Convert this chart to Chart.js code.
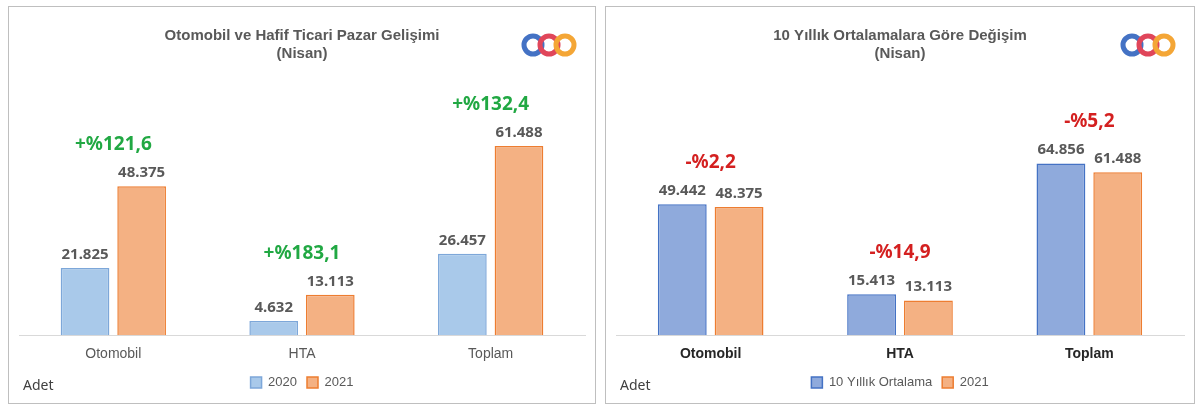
<!DOCTYPE html>
<html><head><meta charset="utf-8">
<script src="https://cdn.jsdelivr.net/npm/chart.js@4"></script>
<style>
body{margin:0;background:#fff;font-family:"Century Gothic","Noto Sans",sans-serif;}
.p{position:absolute;top:6px;height:398px;border:1px solid #bfbfbf;background:#fff;box-sizing:border-box;}
.adet{position:absolute;left:14px;top:368px;font-size:14px;color:#404040;}
</style></head><body>
<div class="p" style="left:8px;width:588px"><canvas id="c1" width="586" height="396"></canvas><div class="adet">Adet</div></div>
<div class="p" style="left:605px;width:590px"><canvas id="c2" width="588" height="396"></canvas><div class="adet">Adet</div></div>
<script>
var kategoriler = ['Otomobil', 'HTA', 'Toplam'];
var veri2020 = [21825, 4632, 26457];
var veri2021 = [48375, 13113, 61488];
var ortalama10 = [49442, 15413, 64856];
var artis = ['+%121,6', '+%183,1', '+%132,4'];
var degisim = ['-%2,2', '-%14,9', '-%5,2'];

function fmt(v){ return v.toString().replace(/\B(?=(\d{3})+(?!\d))/g, '.'); }

function etiketPlugin(yuzde, renk){
  return {
    id: 'etiket',
    afterDatasetsDraw: function(chart){
      var ctx = chart.ctx;
      ctx.save();
      ctx.textAlign = 'center';
      ctx.textBaseline = 'bottom';
      ctx.font = 'bold 15px "Noto Sans", sans-serif';
      ctx.fillStyle = '#595959';
      var tops = [];
      chart.data.datasets.forEach(function(ds, di){
        chart.getDatasetMeta(di).data.forEach(function(bar, i){
          ctx.fillText(fmt(ds.data[i]), bar.x, bar.y - 6);
          tops[i] = Math.min(tops[i] || 9999, bar.y);
        });
      });
      ctx.font = 'bold 19px "Noto Sans", sans-serif';
      ctx.fillStyle = renk;
      var m = chart.getDatasetMeta(0).data, n = chart.getDatasetMeta(1).data;
      for (var i = 0; i < yuzde.length; i++) {
        ctx.fillText(yuzde[i], (m[i].x + n[i].x) / 2, tops[i] - 32);
      }
      // logo
      var cols = ['#4472C4', '#E0465A', '#F4A636'];
      var lx = chart.width - 62, ly = 38;
      ctx.lineWidth = 5;
      for (var k = 0; k < 3; k++) {
        ctx.strokeStyle = cols[k];
        ctx.beginPath();
        ctx.arc(lx + k * 16, ly, 9, 0, Math.PI * 2);
        ctx.stroke();
      }
      ctx.restore();
    }
  };
}

function grafik(id, baslik, d1, d2, e1, yuzde, renk, c1, b1, ymax, xbold){
  new Chart(document.getElementById(id), {
    type: 'bar',
    data: {
      labels: kategoriler,
      datasets: [
        { label: e1, data: d1, backgroundColor: c1, borderColor: b1, borderWidth: 1.5 },
        { label: '2021', data: d2, backgroundColor: '#F4B183', borderColor: '#ED7D31', borderWidth: 1.5 }
      ]
    },
    options: {
      responsive: false,
      animation: false,
      layout: { padding: { left: 10, right: 10, top: 0, bottom: 4 } },
      datasets: { bar: { barPercentage: 0.86, categoryPercentage: 0.6 } },
      plugins: {
        title: { display: true, text: baslik, color: '#595959', font: { size: 15, weight: 'bold' }, padding: { top: 20, bottom: 6 } },
        legend: { position: 'bottom', labels: { boxWidth: 11, boxHeight: 11, color: '#595959', font: { size: 13 } } },
        tooltip: { enabled: false }
      },
      scales: {
        x: { grid: { display: false }, border: { color: '#d9d9d9' },
             ticks: { color: xbold ? '#262626' : '#595959', font: { size: 14, weight: xbold ? 'bold' : 'normal' } } },
        y: { display: false, min: 0, max: ymax }
      }
    },
    plugins: [etiketPlugin(yuzde, renk)]
  });
}

grafik('c1', ['Otomobil ve Hafif Ticari Pazar Gelişimi', '(Nisan)'], veri2020, veri2021, '2020',
  artis, '#21A843', '#A9C9EA', '#7DA7D9', 86500, false);
grafik('c2', ['10 Yıllık Ortalamalara Göre Değişim', '(Nisan)'], ortalama10, veri2021, '10 Yıllık Ortalama',
  degisim, '#D42020', '#8FAADC', '#4472C4', 100500, true);
</script>
</body></html>
